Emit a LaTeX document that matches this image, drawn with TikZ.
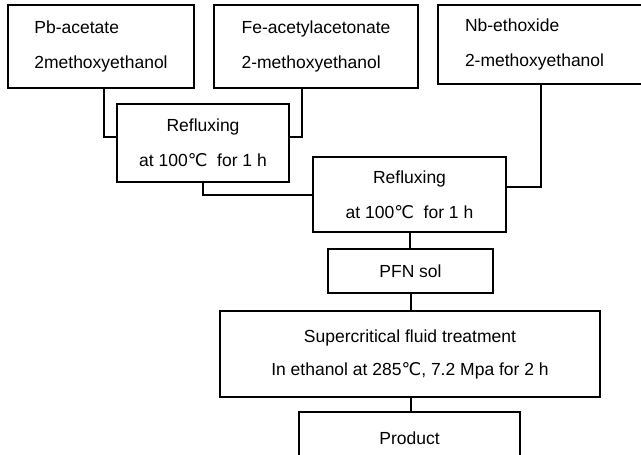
\documentclass[tikz,border=0pt]{standalone}
\usepackage{fontspec}
\setmainfont{Liberation Sans}
\newfontfamily\degfont{DejaVu Sans}
\newcommand{\degc}{{\degfont ℃}}
\begin{document}
\begin{tikzpicture}[x=1pt,y=-1pt]
    \tikzstyle{line} = [line width=2pt]
    \tikzstyle{rec} = [rectangle, draw=black, line width=2pt, align=center,
        font=\fontsize{17.5}{35}\selectfont, anchor=north west]

    \useasboundingbox (0,0) rectangle (641,455);
    \clip (0,0) rectangle (641,455);

    \node(pb) [rec, align=left, minimum width=186pt, minimum height=83pt]
        at (7,4) {Pb-acetate\\ 2methoxyethanol};
    \node(fe) [rec, align=left, minimum width=204pt, minimum height=83pt]
        at (213,4) {Fe-acetylacetonate\\ 2-methoxyethanol};
    \node(nb) [rec, align=left, text width=190pt, inner xsep=27pt,
        minimum height=79pt]
        at (437,4) {Nb-ethoxide\\ 2-methoxyethanol};
    \node(reflux1) [rec, minimum width=172pt, minimum height=78pt]
        at (116,103) {Refluxing\\ at 100\degc\ \ for 1 h};
    \node(reflux2) [rec, minimum width=193pt, minimum height=75pt]
        at (312,156) {Refluxing\\ at 100\degc\ \ for 1 h};
    \node(pfn) [rec, minimum width=165pt, minimum height=44pt]
        at (327,248) {PFN sol};
    \node(scf) [rec, minimum width=380pt, minimum height=86pt,
        font=\fontsize{17.5}{33}\selectfont]
        at (219,310) {Supercritical fluid treatment\\
        In ethanol at 285\degc, 7.2 Mpa for 2 h};
    \node(product) [rec, minimum width=221pt, minimum height=52pt]
        at (298,411) {Product};

    \draw[line] ([xshift=97pt]pb.south west) |- ([yshift=6pt]reflux1.west);
    \draw[line] ([xshift=89pt]fe.south west) |- ([yshift=6pt]reflux1.east);
    \draw[line] (reflux1.south) |- (reflux2.west);
    \draw[line] ([xshift=104pt]nb.south west) |- ([yshift=8pt]reflux2.east);
    \draw[line] (reflux2.south) -- (pfn.north -| reflux2.south);
    \draw[line] (pfn.south) -- (scf.north -| pfn.south);
    \draw[line] (scf.south -| pfn.south) -- (product.north -| pfn.south);
\end{tikzpicture}
\end{document}
